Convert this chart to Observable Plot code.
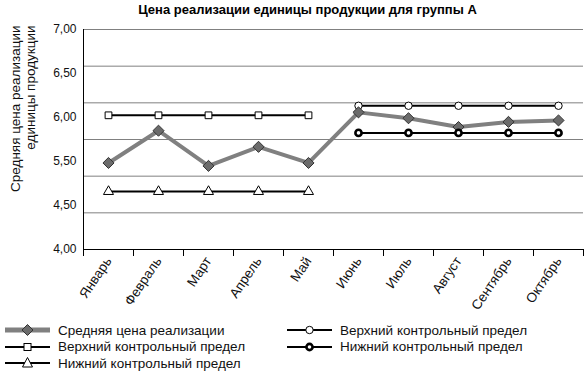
<!DOCTYPE html>
<html>
<head>
<meta charset="utf-8">
<script src="https://cdn.jsdelivr.net/npm/d3@7"></script>
<script src="https://cdn.jsdelivr.net/npm/@observablehq/plot@0.6"></script>
<style>
  body { margin: 0; background: #fff; font-family: "Liberation Sans", Arial, sans-serif; color: #000; }
  #wrap { width: 588px; height: 376px; position: relative; overflow: hidden; }
  #title { width: 588px; height: 18px; line-height: 20px; box-sizing: border-box; padding-left: 27px;
           text-align: center; font-weight: bold; font-size: 13px; }
  #chart svg { display: block; }
  #legend { display: grid; grid-template-columns: 282px 300px; grid-auto-rows: 16.5px;
            padding-left: 5px; padding-top: 4px; font-size: 13.5px; color: #111; }
  .item { display: flex; align-items: center; white-space: nowrap; }
  .item svg { margin-right: 8px; flex: none; }
</style>
</head>
<body>
<div id="wrap">
  <div id="title">Цена реализации единицы продукции для группы А</div>
  <div id="chart"></div>
  <div id="legend"></div>
</div>
<script>
// ---- data ----
const months = ["Январь", "Февраль", "Март", "Апрель", "Май", "Июнь", "Июль", "Август", "Сентябрь", "Октябрь"];
const avgPrice = [5.18, 5.62, 5.14, 5.40, 5.18, 5.87, 5.79, 5.67, 5.74, 5.76];
const upperLimitA = [5.83, 5.83, 5.83, 5.83, 5.83];      // Jan–May
const lowerLimitA = [4.79, 4.79, 4.79, 4.79, 4.79];      // Jan–May
const upperLimitB = [5.96, 5.96, 5.96, 5.96, 5.96];      // Jun–Oct
const lowerLimitB = [5.59, 5.59, 5.59, 5.59, 5.59];      // Jun–Oct
const gridValues = [4, 4.5, 5, 5.5, 6, 6.5, 7];
const yTickPos = [7, 6.4, 5.8, 5.2, 4.6, 4];
const yTickLabels = ["7,00", "6,50", "6,00", "5,50", "4,50", "4,00"];
const yTitle = "Средняя цена реализации\nединицы продукции";
const seriesNames = ["Средняя цена реализации", "Верхний контрольный предел", "Нижний контрольный предел",
                     "Верхний контрольный предел", "Нижний контрольный предел"];

// ---- tables ----
const main = months.map((m, i) => ({x: i + 0.5, v: avgPrice[i]}));
const uA = upperLimitA.map((v, i) => ({x: i + 0.5, v}));
const lA = lowerLimitA.map((v, i) => ({x: i + 0.5, v}));
const uB = upperLimitB.map((v, i) => ({x: i + 5.5, v}));
const lB = lowerLimitB.map((v, i) => ({x: i + 5.5, v}));
const centers = months.map((m, i) => i + 0.5);
const bounds = d3.range(0, months.length + 1);

const chart = Plot.plot({
  width: 588,
  height: 300,
  marginTop: 11,
  marginBottom: 69,
  marginLeft: 83,
  marginRight: 5,
  style: {fontFamily: "'Liberation Sans', Arial, sans-serif", fontSize: "12px", color: "#000"},
  x: {type: "linear", domain: [0, months.length]},
  y: {domain: [4, 7]},
  marks: [
    Plot.ruleY(gridValues, {stroke: "#808080", strokeWidth: 1}),
    Plot.ruleX([0], {stroke: "#000", strokeWidth: 1}),
    Plot.ruleY([4], {stroke: "#000", strokeWidth: 1}),
    Plot.axisY({ticks: yTickPos, tickFormat: d => yTickLabels[yTickPos.indexOf(d)], tickSize: 0, tickPadding: 7, label: null, fontSize: 12, fill: "#111"}),
    Plot.axisX({ticks: bounds, tickFormat: () => "", tickSize: 7, label: null, stroke: "#000"}),
    Plot.axisX({ticks: centers, tickFormat: d => months[Math.floor(d)], tickSize: 0, tickPadding: 9, tickRotate: -56, label: null, fontSize: 13.5, fill: "#111"}),
    Plot.text([yTitle], {text: d => d, frameAnchor: "top-left", rotate: -90, textAnchor: "end", lineAnchor: "middle", lineHeight: 1.1, dx: -60.5, dy: -4, fontSize: 13.5, fill: "#111"}),
    // limits, period A
    Plot.line(uA, {x: "x", y: "v", stroke: "#000", strokeWidth: 2}),
    Plot.dot(uA, {x: "x", y: "v", symbol: "square2", r: 4.3, fill: "#fff", stroke: "#000", strokeWidth: 1}),
    Plot.line(lA, {x: "x", y: "v", stroke: "#000", strokeWidth: 2}),
    Plot.dot(lA, {x: "x", y: "v", symbol: "triangle2", r: 4.8, fill: "#fff", stroke: "#000", strokeWidth: 1}),
    // upper limit, period B
    Plot.line(uB, {x: "x", y: "v", stroke: "#000", strokeWidth: 2}),
    Plot.dot(uB, {x: "x", y: "v", r: 3.7, fill: "#fff", stroke: "#000", strokeWidth: 1}),
    // main series
    Plot.line(main, {x: "x", y: "v", stroke: "#808080", strokeWidth: 4}),
    Plot.dot(main, {x: "x", y: "v", symbol: "diamond2", r: 5, fill: "#6b6b6b", stroke: "#333", strokeWidth: 1}),
    // lower limit, period B
    Plot.line(lB, {x: "x", y: "v", stroke: "#000", strokeWidth: 2}),
    Plot.dot(lB, {x: "x", y: "v", r: 3.1, fill: "#fff", stroke: "#000", strokeWidth: 2.6})
  ]
});
document.getElementById("chart").appendChild(chart);

// ---- legend ----
function sym(kind) {
  const ns = "http://www.w3.org/2000/svg";
  const s = document.createElementNS(ns, "svg");
  s.setAttribute("width", 45); s.setAttribute("height", 14);
  let inner = "";
  if (kind === 0) {
    inner = `<line x1="0" x2="45" y1="7" y2="7" stroke="#808080" stroke-width="5"/>
             <polygon points="22.5,1.5 28,7 22.5,12.5 17,7" fill="#6b6b6b" stroke="#333" stroke-width="1"/>`;
  } else {
    inner = `<line x1="0" x2="45" y1="7" y2="7" stroke="#000" stroke-width="2"/>`;
    if (kind === 1) inner += `<rect x="19" y="3.5" width="7" height="7" fill="#fff" stroke="#000"/>`;
    if (kind === 2) inner += `<polygon points="22.5,1.5 27.5,11 17.5,11" fill="#fff" stroke="#000"/>`;
    if (kind === 3) inner += `<circle cx="22.5" cy="7" r="3.7" fill="#fff" stroke="#000"/>`;
    if (kind === 4) inner += `<circle cx="22.5" cy="7" r="3.1" fill="#fff" stroke="#000" stroke-width="2.6"/>`;
  }
  s.innerHTML = inner;
  return s;
}
const legendOrder = [0, 3, 1, 4, 2];
const legend = document.getElementById("legend");
legendOrder.forEach(k => {
  const div = document.createElement("div");
  div.className = "item";
  div.appendChild(sym(k));
  const span = document.createElement("span");
  span.textContent = seriesNames[k];
  div.appendChild(span);
  legend.appendChild(div);
});
</script>
</body>
</html>
